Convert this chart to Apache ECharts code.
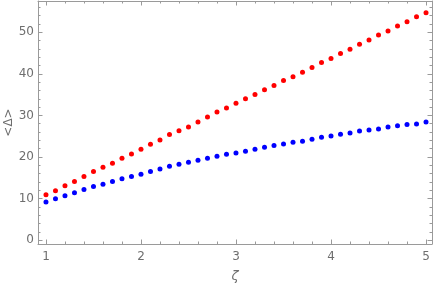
<!DOCTYPE html>
<html><head><meta charset="utf-8">
<script src="https://cdn.jsdelivr.net/npm/echarts@6/dist/echarts.min.js"></script>
<style>html,body{margin:0;padding:0;background:#fff}#c{width:436px;height:287px}</style>
</head><body><div id="c"></div>
<script>
const zeta = [1.0,1.1,1.2,1.3,1.4,1.5,1.6,1.7,1.8,1.9,2.0,2.1,2.2,2.3,2.4,2.5,2.6,2.7,2.8,2.9,3.0,3.1,3.2,3.3,3.4,3.5,3.6,3.7,3.8,3.9,4.0,4.1,4.2,4.3,4.4,4.5,4.6,4.7,4.8,4.9,5.0];
const redValues = [10.96,11.9,13.1,14.15,15.3,16.55,17.55,18.5,19.7,20.7,21.9,23.1,24.1,25.4,26.3,27.2,28.4,29.6,30.8,31.8,32.9,34.0,35.0,36.2,37.2,38.4,39.3,40.4,41.5,42.7,43.7,44.9,45.9,47.1,48.1,49.3,50.3,51.5,52.5,53.7,54.7];
const blueValues = [9.2,9.95,10.7,11.4,12.2,12.9,13.45,14.1,14.8,15.3,15.85,16.55,17.1,17.8,18.25,18.75,19.2,19.7,20.2,20.65,20.95,21.4,21.9,22.35,22.8,23.15,23.55,23.8,24.3,24.75,25.05,25.5,25.8,26.25,26.5,26.75,27.2,27.5,27.8,27.95,28.4];
const xMajorTicks = [1,2,3,4,5];
const xMinorTicks = [1.2,1.4,1.6,1.8,2.2,2.4,2.6,2.8,3.2,3.4,3.6,3.8,4.2,4.4,4.6,4.8];
const yMajorTicks = [0,10,20,30,40,50];
const yMinorTicks = [2,4,6,8,12,14,16,18,22,24,26,28,32,34,36,38,42,44,46,48,52,54,56];
const xTitle = 'ζ';
const yTitle = '<Δ>';

const XMIN = 0.916, XMAX = 5.063, YMIN = -0.9, YMAX = 57.5;
const frameColor = '#9a9a9a', labelColor = '#6e6e6e';
const font = 'DejaVu Sans';
const gridRect = {left: 38, right: 4, top: 1, bottom: 43, containLabel: false, outerBoundsMode: 'none'};

function xAx(grid, pos, ticks, len, labels, line, name) {
  return {
    type: 'value', gridIndex: grid, position: pos, min: XMIN, max: XMAX,
    splitLine: {show: false},
    axisLine: {show: line, onZero: false, lineStyle: {color: frameColor, width: 1}},
    axisTick: {show: true, inside: true, length: len, customValues: ticks, lineStyle: {color: frameColor, width: 1}},
    axisLabel: labels ? {show: true, customValues: ticks, color: labelColor, fontFamily: font, fontSize: 12, margin: 7} : {show: false},
    name: name || '', nameLocation: 'middle', nameGap: 26, nameMoveOverlap: false,
    nameTextStyle: {color: labelColor, fontFamily: font, fontSize: 13, fontStyle: 'italic'}
  };
}
function yAx(grid, pos, ticks, len, labels, line, name) {
  return {
    type: 'value', gridIndex: grid, position: pos, min: YMIN, max: YMAX,
    splitLine: {show: false},
    axisLine: {show: line, onZero: false, lineStyle: {color: frameColor, width: 1}},
    axisTick: {show: true, inside: true, length: len, customValues: ticks, lineStyle: {color: frameColor, width: 1}},
    axisLabel: labels ? {show: true, customValues: ticks, color: labelColor, fontFamily: font, fontSize: 12, margin: 4} : {show: false},
    name: name || '', nameLocation: 'middle', nameGap: 23, nameRotate: 90, nameMoveOverlap: false,
    nameTextStyle: {color: labelColor, fontFamily: font, fontSize: 12}
  };
}

const chart = echarts.init(document.getElementById('c'), null, {renderer: 'canvas'});
chart.setOption({
  animation: false,
  backgroundColor: '#fff',
  grid: [Object.assign({}, gridRect), Object.assign({}, gridRect)],
  xAxis: [
    xAx(0, 'bottom', xMajorTicks, 4.5, true, true, xTitle),
    xAx(0, 'top', xMajorTicks, 4.5, false, true),
    xAx(1, 'bottom', xMinorTicks, 2.5, false, false),
    xAx(1, 'top', xMinorTicks, 2.5, false, false)
  ],
  yAxis: [
    yAx(0, 'left', yMajorTicks, 4.5, true, true, yTitle),
    yAx(0, 'right', yMajorTicks, 4.5, false, true),
    yAx(1, 'left', yMinorTicks, 2.5, false, false),
    yAx(1, 'right', yMinorTicks, 2.5, false, false)
  ],
  series: [
    {type: 'scatter', xAxisIndex: 0, yAxisIndex: 0, symbol: 'circle', symbolSize: 5,
     itemStyle: {color: '#ff0000', opacity: 1}, data: zeta.map((x, i) => [x, redValues[i]])},
    {type: 'scatter', xAxisIndex: 0, yAxisIndex: 0, symbol: 'circle', symbolSize: 5,
     itemStyle: {color: '#0000ff', opacity: 1}, data: zeta.map((x, i) => [x, blueValues[i]])}
  ]
});
</script></body></html>
